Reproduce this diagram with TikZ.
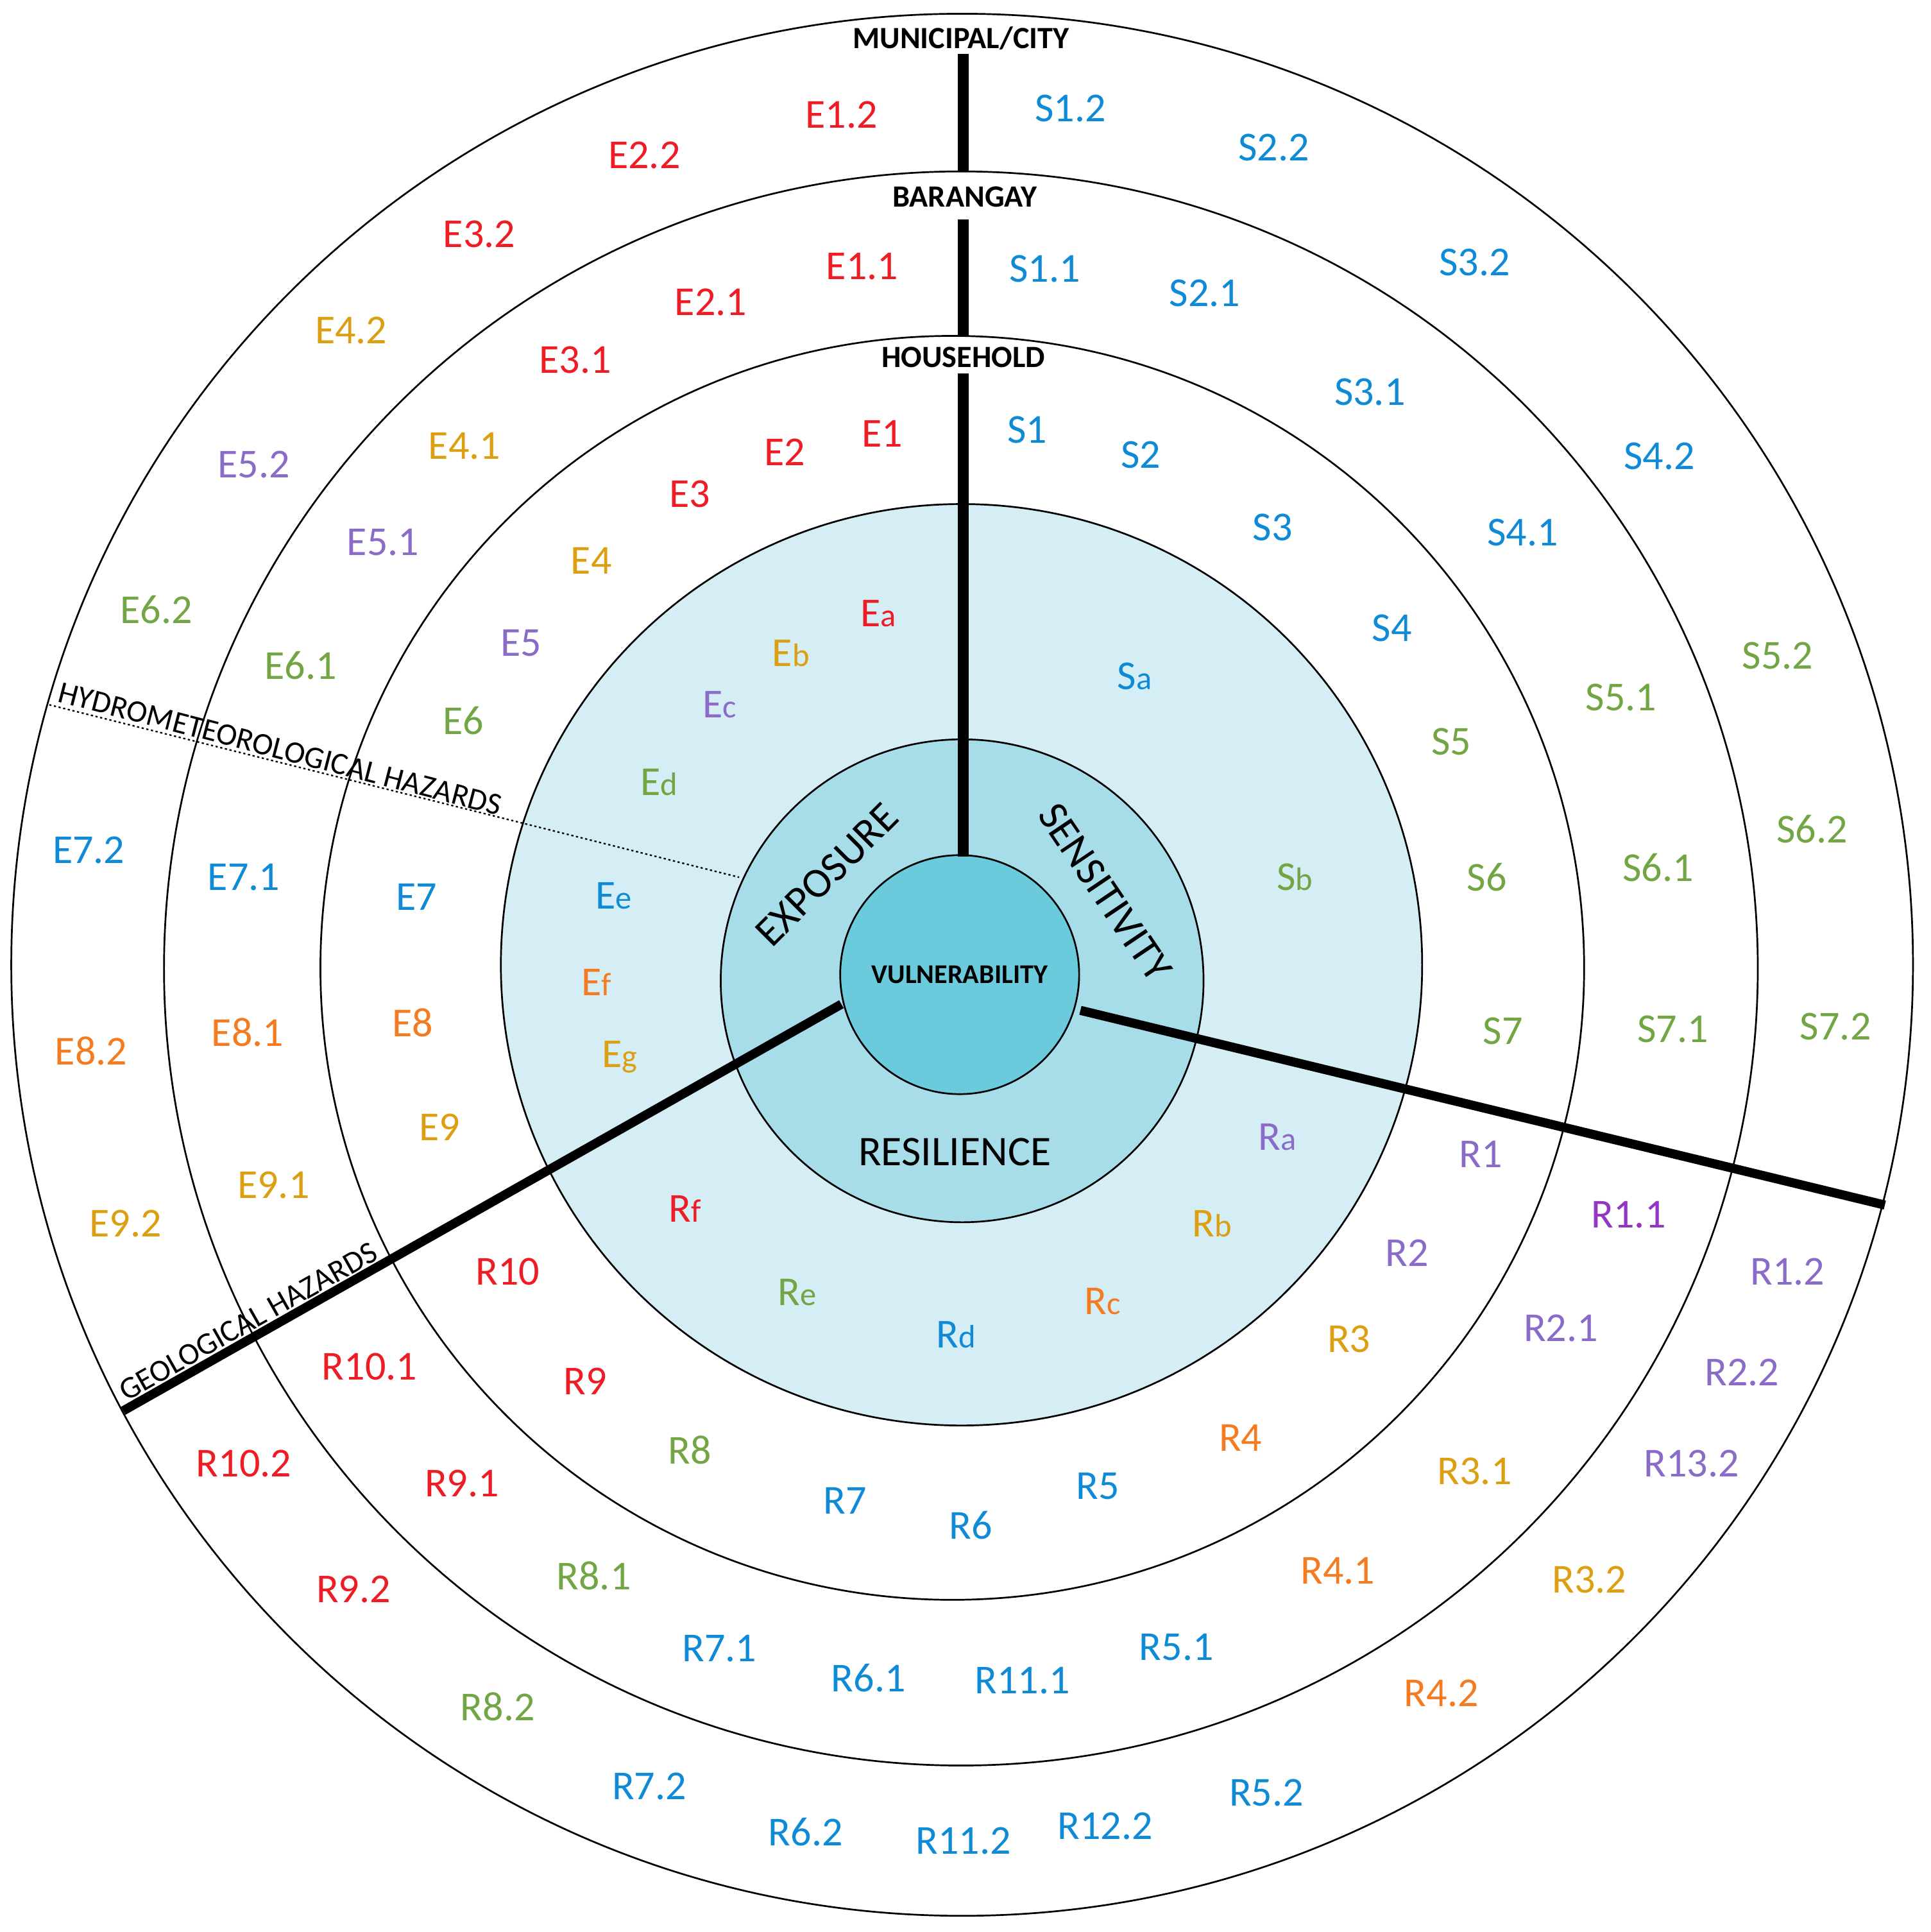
\documentclass[tikz,border=0pt]{standalone}
\usepackage{fontspec}
\setmainfont{Carlito}
\usetikzlibrary{calc}
\definecolor{cRed}{HTML}{EE1C24}
\definecolor{cBlue}{HTML}{0E8AD6}
\definecolor{cGreen}{HTML}{72A543}
\definecolor{cGold}{HTML}{DD9F12}
\definecolor{cPurple}{HTML}{8B6BC8}
\definecolor{cMag}{HTML}{9436C4}
\definecolor{cOrange}{HTML}{F47B20}
\definecolor{fillA}{HTML}{D5EDF4}
\definecolor{fillB}{HTML}{A7DDE9}
\definecolor{fillC}{HTML}{6BCBDC}
\newcommand\lsub[1]{{\fontsize{15}{16}\selectfont #1}}
\tikzset{
  ring/.style={draw=black, line width=0.8pt},
  bar/.style={line width=5pt, line cap=butt},
  dbar/.style={line width=4.2pt, line cap=butt},
  lab/.style={font=\fontsize{19}{22}\selectfont, inner sep=0pt, text=#1},
  lvl/.style={font=\bfseries\fontsize{14.3}{16}\selectfont, inner sep=0pt},
  dimtext/.style={font=\fontsize{19.5}{22}\selectfont, inner sep=0pt},
  haz/.style={font=\fontsize{14.4}{16}\selectfont},
  hazline/.style={line width=0.7pt, dash pattern=on 1pt off 1.2pt},
}
\begin{document}
\begin{tikzpicture}[x=0.02cm, y=-0.02cm]
\useasboundingbox (0,0) rectangle (1567,1568);
\fill[white] (0,0) rectangle (1567,1568);
% rings
\draw[ring, fill=white] (781,783) circle[radius=15.44cm];
\draw[ring] (780,786) circle[radius=12.94cm];
\draw[ring] (773,785.5) circle[radius=10.26cm];
\draw[ring, fill=fillA] (780.5,783) circle[radius=7.48cm];
\draw[ring, fill=fillB] (781,796) circle[radius=3.92cm];
\draw[ring, fill=fillC] (779,791) circle[radius=1.94cm];
% coordinates
\coordinate (m1) at (782,44);
\coordinate (m2) at (782,139);
\coordinate (b1) at (782,178);
\coordinate (b2) at (782,273);
\coordinate (h1) at (782,303);
\coordinate (h2) at (782,695);
\coordinate (gA) at (683,815);
\coordinate (gB) at (100,1145);
\coordinate (rA) at (877,820);
\coordinate (rB) at (1530,978);
\coordinate (hyA) at (40,572);
\coordinate (hyB) at (600,712);
% bars
\draw[bar] (m1) -- (m2);
\draw[bar] (b1) -- (b2);
\draw[bar] (h1) -- (h2);
\draw[dbar] (gA) -- (gB);
\draw[dbar] (rA) -- (rB);
\draw[hazline] (hyA) -- (hyB);
% hazard texts
\node[haz, rotate=-14.5, anchor=south, inner sep=1.2pt] (hyd) at ($(hyA)!0.33!(hyB)$) {HYDROMETEOROLOGICAL HAZARDS};
\node[haz, rotate=29.5, anchor=south, inner sep=2.6pt] (geo) at ($(gA)!0.815!(gB)$) {GEOLOGICAL HAZARDS};
% level labels
\node[lvl] (mun) at (780,31) {MUNICIPAL/CITY};
\node[lvl] (bar) at (783,160) {BARANGAY};
\node[lvl] (hou) at (782,290) {HOUSEHOLD};
% central texts
\node[font=\bfseries\fontsize{12.5}{14}\selectfont, inner sep=0pt] (vul) at (779,791) {VULNERABILITY};
\node[dimtext, rotate=45] (exp) at (671,710) {EXPOSURE};
\node[dimtext, rotate=-56] (sen) at (897,724) {SENSITIVITY};
\node[dimtext] (res) at (775,935) {RESILIENCE};
% outer ring (municipal)
\node[lab=cRed] (e12) at (683,93) {E1.2};
\node[lab=cRed] (e22) at (523,126) {E2.2};
\node[lab=cRed] (e32) at (389,190) {E3.2};
\node[lab=cGold] (e42) at (285,268) {E4.2};
\node[lab=cPurple] (e52) at (206,377) {E5.2};
\node[lab=cGreen] (e62) at (127,495) {E6.2};
\node[lab=cBlue] (e72) at (72,690) {E7.2};
\node[lab=cOrange] (e82) at (74,853) {E8.2};
\node[lab=cGold] (e92) at (102,993) {E9.2};
\node[lab=cBlue] (s12) at (869,88) {S1.2};
\node[lab=cBlue] (s22) at (1034,120) {S2.2};
\node[lab=cBlue] (s32) at (1197,213) {S3.2};
\node[lab=cBlue] (s42) at (1347,370) {S4.2};
\node[lab=cGreen] (s52) at (1443,532) {S5.2};
\node[lab=cGreen] (s62) at (1471,673) {S6.2};
\node[lab=cGreen] (s72) at (1490,833) {S7.2};
\node[lab=cPurple] (r12) at (1451,1032) {R1.2};
\node[lab=cPurple] (r22) at (1414,1114) {R2.2};
\node[lab=cPurple] (r132) at (1373,1188) {R13.2};
\node[lab=cGold] (r32) at (1290,1282) {R3.2};
\node[lab=cOrange] (r42) at (1170,1374) {R4.2};
\node[lab=cBlue] (r52) at (1028,1455) {R5.2};
\node[lab=cBlue] (r122) at (897,1482) {R12.2};
\node[lab=cBlue] (r112) at (782,1494) {R11.2};
\node[lab=cBlue] (r62) at (654,1487) {R6.2};
\node[lab=cBlue] (r72) at (527,1450) {R7.2};
\node[lab=cGreen] (r82) at (404,1385) {R8.2};
\node[lab=cRed] (r92) at (287,1290) {R9.2};
\node[lab=cRed] (r102) at (198,1188) {R10.2};
% barangay ring
\node[lab=cRed] (e11) at (700,216) {E1.1};
\node[lab=cRed] (e21) at (577,245) {E2.1};
\node[lab=cRed] (e31) at (467,292) {E3.1};
\node[lab=cGold] (e41) at (377,362) {E4.1};
\node[lab=cPurple] (e51) at (311,440) {E5.1};
\node[lab=cGreen] (e61) at (244,540) {E6.1};
\node[lab=cBlue] (e71) at (198,712) {E7.1};
\node[lab=cOrange] (e81) at (201,838) {E8.1};
\node[lab=cGold] (e91) at (222,962) {E9.1};
\node[lab=cBlue] (s11) at (848,218) {S1.1};
\node[lab=cBlue] (s21) at (978,238) {S2.1};
\node[lab=cBlue] (s31) at (1112,318) {S3.1};
\node[lab=cBlue] (s41) at (1236,432) {S4.1};
\node[lab=cGreen] (s51) at (1316,566) {S5.1};
\node[lab=cGreen] (s61) at (1346,704) {S6.1};
\node[lab=cGreen] (s71) at (1358,835) {S7.1};
\node[lab=cMag] (r11) at (1322,986) {R1.1};
\node[lab=cPurple] (r21) at (1267,1078) {R2.1};
\node[lab=cGold] (r31) at (1197,1194) {R3.1};
\node[lab=cOrange] (r41) at (1086,1275) {R4.1};
\node[lab=cBlue] (r51) at (955,1337) {R5.1};
\node[lab=cBlue] (r111) at (830,1364) {R11.1};
\node[lab=cBlue] (r61) at (705,1362) {R6.1};
\node[lab=cBlue] (r71) at (584,1338) {R7.1};
\node[lab=cGreen] (r81) at (482,1279) {R8.1};
\node[lab=cRed] (r91) at (375,1204) {R9.1};
\node[lab=cRed] (r101) at (300,1109) {R10.1};
% household ring
\node[lab=cRed] (e1) at (716,352) {E1};
\node[lab=cRed] (e2) at (637,367) {E2};
\node[lab=cRed] (e3) at (560,401) {E3};
\node[lab=cGold] (e4) at (480,455) {E4};
\node[lab=cPurple] (e5) at (423,522) {E5};
\node[lab=cGreen] (e6) at (376,585) {E6};
\node[lab=cBlue] (e7) at (338,728) {E7};
\node[lab=cOrange] (e8) at (335,830) {E8};
\node[lab=cGold] (e9) at (357,915) {E9};
\node[lab=cBlue] (s1) at (834,349) {S1};
\node[lab=cBlue] (s2) at (926,369) {S2};
\node[lab=cBlue] (s3) at (1033,428) {S3};
\node[lab=cBlue] (s4) at (1130,510) {S4};
\node[lab=cGreen] (s5) at (1178,602) {S5};
\node[lab=cGreen] (s6) at (1207,712) {S6};
\node[lab=cGreen] (s7) at (1220,837) {S7};
\node[lab=cPurple] (r1) at (1202,937) {R1};
\node[lab=cPurple] (r2) at (1142,1017) {R2};
\node[lab=cGold] (r3) at (1095,1087) {R3};
\node[lab=cOrange] (r4) at (1007,1167) {R4};
\node[lab=cBlue] (r5) at (891,1206) {R5};
\node[lab=cBlue] (r6) at (788,1238) {R6};
\node[lab=cBlue] (r7) at (686,1218) {R7};
\node[lab=cGreen] (r8) at (560,1177) {R8};
\node[lab=cRed] (r9) at (475,1121) {R9};
\node[lab=cRed] (r10) at (412,1032) {R10};
% light blue ring
\node[lab=cRed] (ea) at (713,498) {E\lsub{a}};
\node[lab=cGold] (eb) at (642,530) {E\lsub{b}};
\node[lab=cPurple] (ec) at (584,572) {E\lsub{c}};
\node[lab=cGreen] (ed) at (535,635) {E\lsub{d}};
\node[lab=cBlue] (ee) at (498,727) {E\lsub{e}};
\node[lab=cOrange] (ef) at (484,797) {E\lsub{f}};
\node[lab=cGold] (eg) at (503,858) {E\lsub{g}};
\node[lab=cBlue] (sa) at (921,549) {S\lsub{a}};
\node[lab=cGreen] (sb) at (1051,712) {S\lsub{b}};
\node[lab=cPurple] (ra) at (1037,923) {R\lsub{a}};
\node[lab=cGold] (rb) at (984,993) {R\lsub{b}};
\node[lab=cOrange] (rc) at (895,1056) {R\lsub{c}};
\node[lab=cBlue] (rd) at (776,1083) {R\lsub{d}};
\node[lab=cGreen] (re) at (647,1049) {R\lsub{e}};
\node[lab=cRed] (rf) at (556,981) {R\lsub{f}};
\end{tikzpicture}
\end{document}
